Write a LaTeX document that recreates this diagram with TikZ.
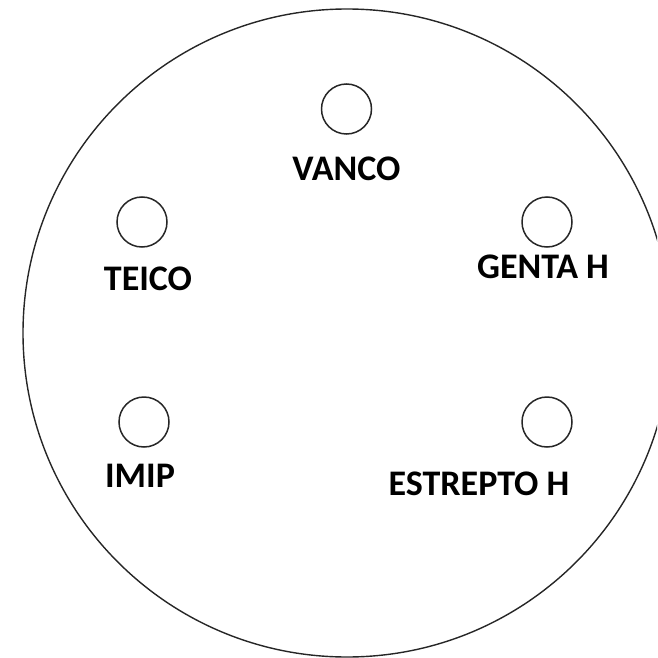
\documentclass[tikz,border=0pt]{standalone}
\usepackage{fontspec}
\setmainfont{Carlito}
\begin{document}
\begin{tikzpicture}[x=1pt,y=-1pt,
  well/.style={draw=black!85,line width=1.5pt,circle,minimum size=50pt,inner sep=0pt},
  lbl/.style={font=\fontsize{36}{42}\selectfont\bfseries,inner sep=0pt,anchor=base},
  plate/.style={draw=black!85,line width=1.4pt}]
\useasboundingbox (0,0) rectangle (657,658);
\clip (0,0) rectangle (657,658);
\draw[plate] (347,333) circle[radius=324];
\node[well] (vanco) at (346.5,109) {};
\node[well] (teico) at (142,222) {};
\node[well] (genta) at (547,222) {};
\node[well] (imip) at (144,422) {};
\node[well] (estrepto) at (547,422) {};
\node[lbl] (tvanco) at (346.5,180) {VANCO};
\node[lbl] (tteico) at (148,290) {TEICO};
\node[lbl] (tgenta) at (543,278) {GENTA H};
\node[lbl] (timip) at (140,487) {IMIP};
\node[lbl] (testrepto) at (479,495) {ESTREPTO H};
\end{tikzpicture}
\end{document}
